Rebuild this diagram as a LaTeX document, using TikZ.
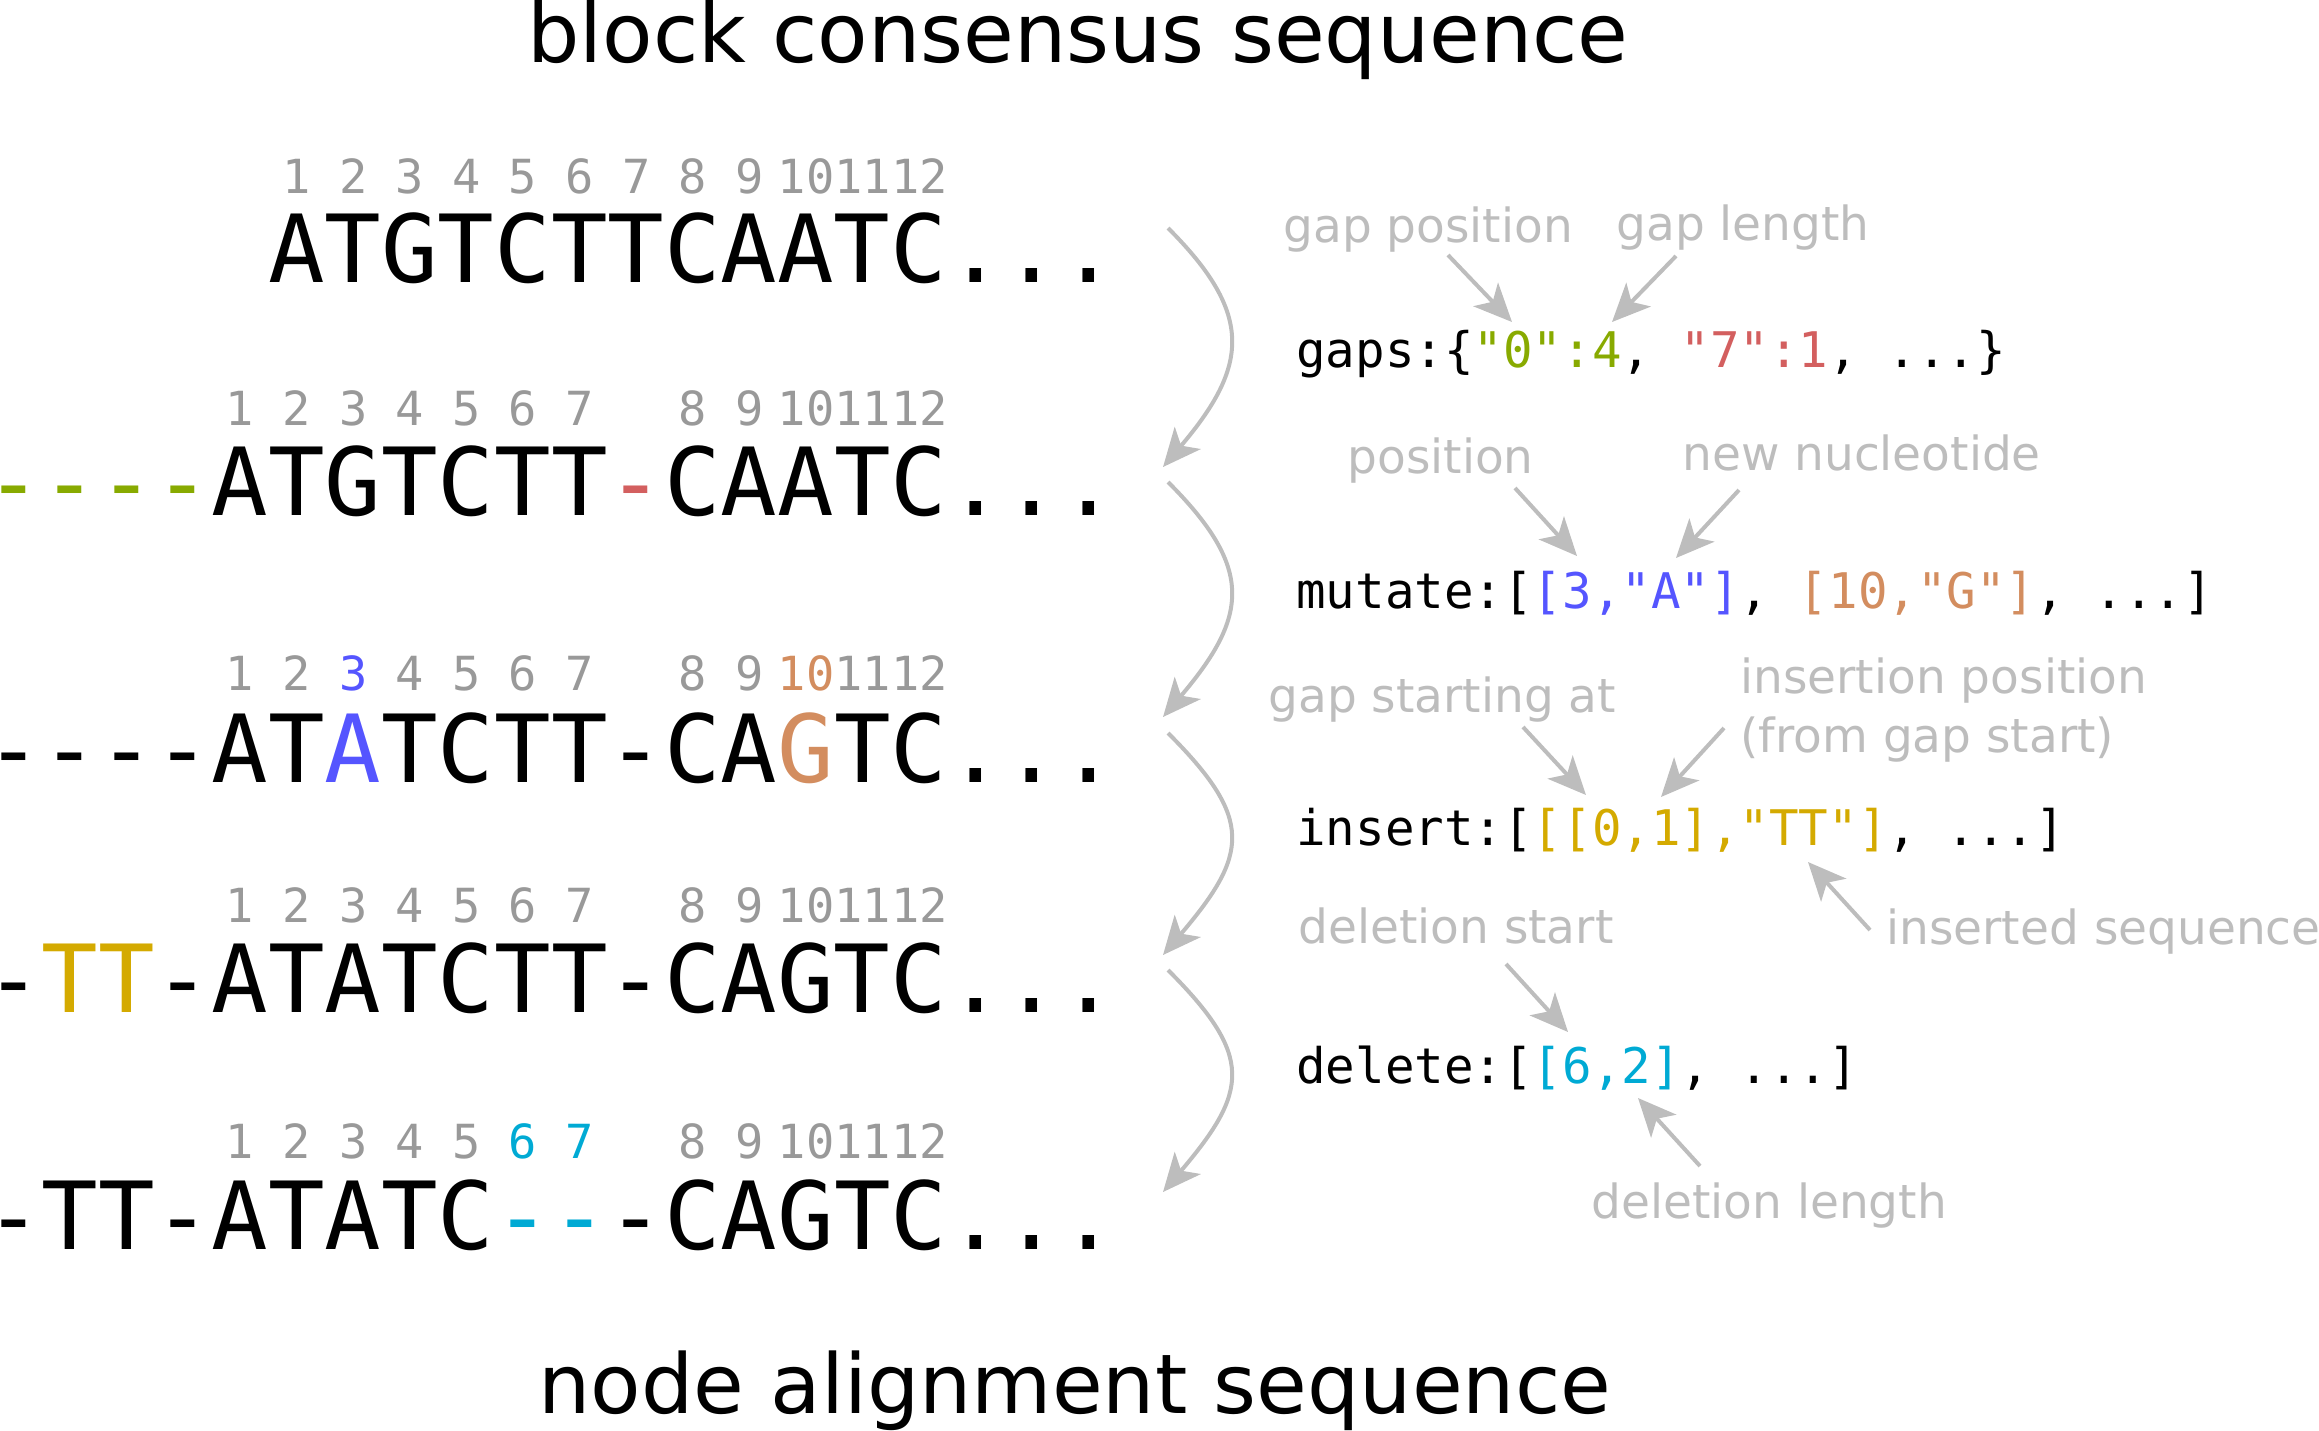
\documentclass[tikz,border=0pt]{standalone}
\usepackage{fontspec}
\setmainfont{DejaVu Sans}
\setmonofont{DejaVu Sans Mono}
\usetikzlibrary{arrows.meta}
\usepackage{xcolor}
\definecolor{numgray}{HTML}{999999}
\definecolor{notegray}{HTML}{BDBDBD}
\definecolor{xgreen}{HTML}{88AA00}
\definecolor{xred}{HTML}{D35F5F}
\definecolor{xblue}{HTML}{5555FF}
\definecolor{xorange}{HTML}{D38D5F}
\definecolor{xgold}{HTML}{D4AA00}
\definecolor{xcyan}{HTML}{00AAD4}
\tikzset{
	seq/.style={anchor=base east, inner sep=0pt, font=\ttfamily\fontsize{47}{50}\selectfont},
	num/.style={anchor=base, inner sep=0pt, text=numgray, font=\ttfamily\fontsize{23.5}{26}\selectfont},
	code/.style={anchor=base west, inner sep=0pt, font=\ttfamily\fontsize{24.55}{28}\selectfont},
	note/.style={anchor=base west, inner sep=0pt, text=notegray, font=\fontsize{23.5}{27}\selectfont},
	heading/.style={anchor=base, inner sep=0pt, font=\fontsize{41.25}{45}\selectfont},
	arrow/.style={line width=2pt, notegray, -{Stealth[length=19pt, width=17pt, inset=5pt]}},
}
% colour of a position number: row, position
\newcommand{\poscol}[2]{%
	\ifnum#1=3 \ifnum#2=3 \color{xblue}\fi\ifnum#2=10 \color{xorange}\fi\fi
	\ifnum#1=5 \ifnum#2>5 \ifnum#2<8 \color{xcyan}\fi\fi\fi}
\def\cellw{56.6}
\def\seqend{1117.4}

\begin{document}
\begin{tikzpicture}[x=0.5pt, y=-0.5pt]
	\useasboundingbox (0,0) rectangle (2319,1430);

	\node[heading] (top) at (1078,62) {block consensus sequence};
	\node[heading] (bottom) at (1075,1413) {node alignment sequence};

	% sequences
	\node[seq] (s1) at (\seqend,282) {ATGTCTTCAATC...};
	\node[seq] (s2) at (\seqend,515) {\textcolor{xgreen}{----}ATGTCTT\textcolor{xred}{-}CAATC...};
	\node[seq] (s3) at (\seqend,782) {----AT\textcolor{xblue}{A}TCTT-CA\textcolor{xorange}{G}TC...};
	\node[seq] (s4) at (\seqend,1012) {-\textcolor{xgold}{TT}-ATATCTT-CAGTC...};
	\node[seq] (s5) at (\seqend,1249) {-TT-ATATC\textcolor{xcyan}{--}-CAGTC...};

	% position numbers
	\foreach \row/\y/\o/\j in {1/193/4/0, 2/425/3/1, 3/690/3/1, 4/922/3/1, 5/1158/3/1}{
		\foreach \i in {1,...,12}{
			\pgfmathtruncatemacro{\k}{\i+\o+\j*(\i>7)}
			\node[num] (n\row-\i) at ({\seqend-\cellw*(19.5-\k)}, \y) {\poscol{\row}{\i}\i};
		}
	}

	% steps
	\coordinate (u1) at (1168,228);  \coordinate (v1) at (1163,467);
	\coordinate (u2) at (1168,482);  \coordinate (v2) at (1163,717);
	\coordinate (u3) at (1168,733);  \coordinate (v3) at (1163,955);
	\coordinate (u4) at (1168,970);  \coordinate (v4) at (1163,1192);
	\foreach \s in {1,...,4}
		\draw[arrow] (u\s) .. controls +(86,86) and +(86,-101) .. (v\s);

	% code
	\node[code] (gaps) at (1296,367) {gaps:\{\textcolor{xgreen}{"0":4}, \textcolor{xred}{"7":1}, ...\}};
	\node[code] (mutate) at (1296,608) {mutate:[\textcolor{xblue}{[3,"A"]}, \textcolor{xorange}{[10,"G"]}, ...]};
	\node[code] (insert) at (1296,845) {insert:[\textcolor{xgold}{[[0,1],"TT"]}, ...]};
	\node[code] (delete) at (1296,1083) {delete:[\textcolor{xcyan}{[6,2]}, ...]};

	% notes
	\node[note] (gappos) at (1283,242) {gap position};
	\node[note] (gaplen) at (1616,240) {gap length};
	\node[note] (pos) at (1347,473) {position};
	\node[note] (newnt) at (1682,470) {new nucleotide};
	\node[note] (gapstart) at (1268,712) {gap starting at};
	\node[note] (inspos) at (1740,693) {insertion position};
	\node[note] (insfrom) at (1740,752) {(from gap start)};
	\node[note] (insseq) at (1886,944) {inserted sequence};
	\node[note] (delstart) at (1298,943) {deletion start};
	\node[note] (dellen) at (1591,1218) {deletion length};

	\coordinate (gappos-a) at (1448,255);  \coordinate (gappos-b) at (1512,322);
	\coordinate (gaplen-a) at (1676,256);  \coordinate (gaplen-b) at (1612,322);
	\coordinate (pos-a) at (1515,488);     \coordinate (pos-b) at (1577,556);
	\coordinate (newnt-a) at (1739,490);   \coordinate (newnt-b) at (1676,558);
	\coordinate (gapstart-a) at (1523,727); \coordinate (gapstart-b) at (1586,795);
	\coordinate (inspos-a) at (1724,728);  \coordinate (inspos-b) at (1661,797);
	\coordinate (insseq-a) at (1870,930);  \coordinate (insseq-b) at (1808,862);
	\coordinate (delstart-a) at (1506,964); \coordinate (delstart-b) at (1568,1032);
	\coordinate (dellen-a) at (1700,1166); \coordinate (dellen-b) at (1638,1098);

	\draw[arrow] (gappos-a) -- (gappos-b);
	\draw[arrow] (gaplen-a) -- (gaplen-b);
	\draw[arrow] (pos-a) -- (pos-b);
	\draw[arrow] (newnt-a) -- (newnt-b);
	\draw[arrow] (gapstart-a) -- (gapstart-b);
	\draw[arrow] (inspos-a) -- (inspos-b);
	\draw[arrow] (insseq-a) -- (insseq-b);
	\draw[arrow] (delstart-a) -- (delstart-b);
	\draw[arrow] (dellen-a) -- (dellen-b);
\end{tikzpicture}
\end{document}
